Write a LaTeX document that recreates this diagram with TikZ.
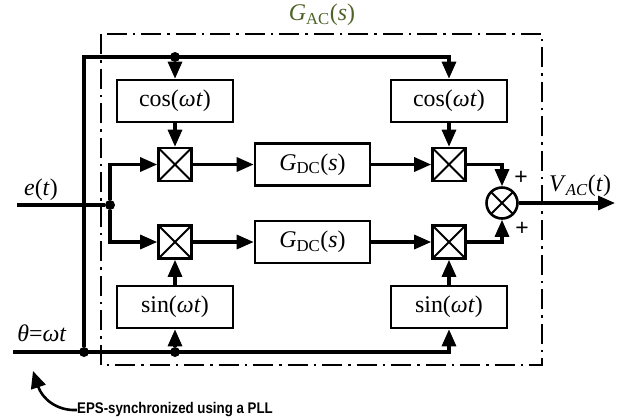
\documentclass[tikz,border=0pt]{standalone}
\usepackage{fontspec}
\setmainfont{Liberation Serif}
\newfontfamily\epsfont{Liberation Sans}
\usetikzlibrary{arrows.meta,calc}
\definecolor{olivegreen}{RGB}{79,98,40}
\newcommand\wt{\textit{ωt}}
\begin{document}
\begin{tikzpicture}[x=1bp,y=-1bp,
  wire/.style={line width=3.2bp},
  arr/.style={wire,-{Triangle[length=17bp,width=14bp]}},
  blk/.style={draw,line width=2.6bp,minimum width=116bp,minimum height=42bp,inner sep=0pt,font=\fontsize{24}{28}\selectfont},
  xpic/.style={path picture={\draw[line width=2bp] (path picture bounding box.north west)--(path picture bounding box.south east) (path picture bounding box.north east)--(path picture bounding box.south west);}},
  mult/.style={draw,line width=2.6bp,minimum size=33bp,inner sep=0pt,xpic},
  summer/.style={circle,draw,line width=2.6bp,minimum size=31bp,inner sep=0pt,xpic},
  dotn/.style={circle,fill,inner sep=0pt,minimum size=10bp},
  lbl/.style={font=\fontsize{24}{28}\selectfont,inner sep=0pt},
  plus/.style={font=\epsfont\fontsize{23}{24}\selectfont,inner sep=0pt},
  frame/.style={line width=2.4bp,dash pattern=on 20bp off 6bp on 2.5bp off 6bp}
]
\useasboundingbox (0,0) rectangle (636,419);
\draw[frame] (101,34) rectangle (542,365);

\node[blk] (cosL) at (175,101) {cos(\wt)};
\node[blk] (cosR) at (449,101) {cos(\wt)};
\node[blk] (sinL) at (175,307) {sin(\wt)};
\node[blk] (sinR) at (449,307) {sin(\wt)};
\node[mult] (m1) at (175,164.5) {};
\node[mult] (m2) at (449,164.5) {};
\node[mult] (m3) at (175,242) {};
\node[mult] (m4) at (449,242) {};
\node[blk,minimum width=115bp] (g1) at (312.5,164.5) {\textit{G}\textsubscript{DC}(\textit{s})};
\node[blk,minimum width=115bp] (g2) at (312.5,242) {\textit{G}\textsubscript{DC}(\textit{s})};
\node[summer] (sum) at (502,203) {};

\coordinate (eL) at (17,205);
\node[dotn] (eD) at (110,205) {};
\coordinate (tL) at (13,352);
\node[dotn] (tD1) at (84,352) {};
\node[dotn] (tD2) at (175,352) {};
\coordinate (tTop) at (84,57);
\node[dotn] (topD) at (175,57) {};
\coordinate (out) at (615,203);

\draw[wire] (eL) -- (eD);
\draw[arr] (eD) |- (m1.west);
\draw[arr] (eD) |- (m3.west);
\draw[arr] (tL) -| (sinR.south);
\draw[arr] (tD1) -- (tTop) -| (cosR.north);
\draw[arr] (topD) -- (cosL.north);
\draw[arr] (tD2) -- (sinL.south);
\draw[arr] (cosL.south) -- (m1.north);
\draw[arr] (cosR.south) -- (m2.north);
\draw[arr] (sinL.north) -- (m3.south);
\draw[arr] (sinR.north) -- (m4.south);
\draw[arr] (m1.east) -- (g1.west);
\draw[arr] (m3.east) -- (g2.west);
\draw[arr] (g1.east) -- (m2.west);
\draw[arr] (g2.east) -- (m4.west);
\draw[arr] (m2.east) -| (sum.north);
\draw[arr] (m4.east) -| (sum.south);
\draw[arr] (sum.east) -- (out);

\node[plus] (p1) at (521,178) {+};
\node[plus] (p2) at (522,229) {+};
\node[lbl] (elbl) at (41,190) {\textit{e}(\textit{t})};
\node[lbl] (thlbl) at (42,333) {\textit{θ}=\wt};
\node[lbl] (vlbl) at (580,186) {\textit{V}\textsubscript{\textit{AC}}(\textit{t})};
\node[lbl,text=olivegreen] (glbl) at (322,15) {\textit{G}\textsubscript{AC}(\textit{s})};

\node[anchor=west,inner sep=0pt] (eps) at (77,410) {\epsfont\bfseries\fontsize{15.5}{17}\selectfont\scalebox{0.86}[1]{EPS-synchronized using a PLL}};
\draw[line width=2.6bp,-{Triangle[length=17bp,width=15bp]}] (eps.west) .. controls (56,411) and (42,398) .. (33,371);
\end{tikzpicture}
\end{document}
